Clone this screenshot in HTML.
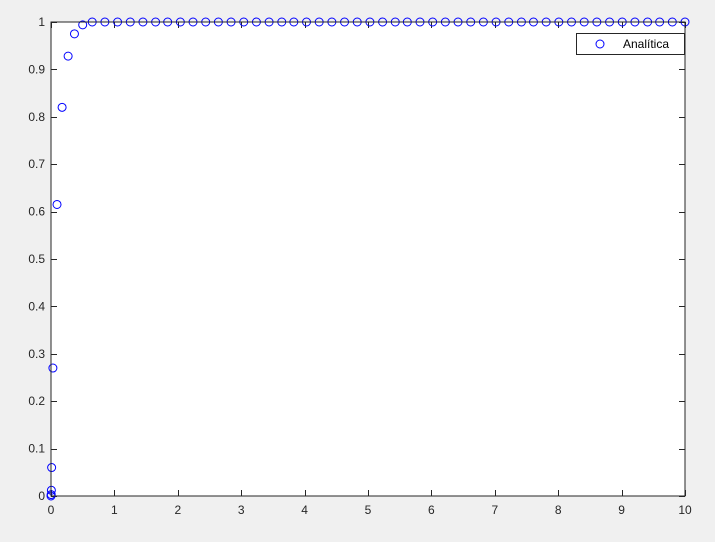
<!DOCTYPE html>
<html><head><meta charset="utf-8"><style>
html,body{margin:0;padding:0;background:#f0f0f0;}
svg{display:block;font-family:"Liberation Sans",Arial,sans-serif;}
</style></head><body>
<svg id="chart" width="715" height="542">
<rect x="0" y="0" width="715" height="542" fill="#f0f0f0"/>
<rect x="51" y="22" width="634" height="474" fill="#ffffff"/>
<g id="ticks"></g>
<g id="marks"></g>
<rect x="51" y="22" width="634" height="474" fill="none" stroke="#262626" stroke-width="1"/>
<g>
<rect x="576.5" y="33.5" width="108" height="21" fill="#fff" stroke="#262626"/>
<circle cx="600" cy="44" r="4" fill="none" stroke="#0000ff"/>
<text x="623" y="48" font-size="12" fill="#000">Analítica</text>
</g>
</svg>
<script>
const xTicks=[0,1,2,3,4,5,6,7,8,9,10];
const yTicks=[0,0.1,0.2,0.3,0.4,0.5,0.6,0.7,0.8,0.9,1];
const xVals=[0,0.003,0.006,0.01,0.03,0.095,0.175,0.27,0.37,0.5,
0.65,0.85,1.05,1.25,1.45,1.65,1.84,2.04,2.24,2.44,2.64,2.84,3.04,3.24,3.44,3.64,3.83,4.03,4.23,4.43,4.63,4.83,5.03,5.23,5.43,5.62,5.82,6.02,6.22,6.42,6.62,6.82,7.02,7.22,7.42,7.61,7.81,8.01,8.21,8.41,8.61,8.81,9.01,9.21,9.41,9.60,9.80,10.0];
const yVals=[0,0.003,0.012,0.06,0.27,0.615,0.82,0.928,0.975,0.994,
1,1,1,1,1,1,1,1,1,1,1,1,1,1,1,1,1,1,1,1,1,1,1,1,1,1,1,1,1,1,1,1,1,1,1,1,1,1,1,1,1,1,1,1,1,1,1,1];
const NS="http://www.w3.org/2000/svg";
const X0=51,X1=685,Y0=496,Y1=22;
function sx(v){return X0+(v-0)/(10-0)*(X1-X0);}
function sy(v){return Y0-(v-0)/(1-0)*(Y0-Y1);}
const tg=document.getElementById('ticks');
function mk(tag,attrs){const e=document.createElementNS(NS,tag);for(const k in attrs)e.setAttribute(k,attrs[k]);return e;}
xTicks.forEach(t=>{
  const x=Math.round(sx(t))+0.5;
  const l=mk('path',{d:`M${x},${Y0}V${Y0-6}M${x},${Y1}V${Y1+6}`,stroke:'#262626','stroke-width':1});
  
  
  tg.appendChild(l);
  const tx=mk('text',{x:sx(t),y:514,'font-size':12,'text-anchor':'middle',fill:'#262626'});
  tx.textContent=String(t);
  
  
  tg.appendChild(tx);
});
yTicks.forEach(t=>{
  const y=Math.round(sy(t))+0.5;
  const l=mk('path',{d:`M${X0},${y}H${X0+6}M${X1},${y}H${X1-6}`,stroke:'#262626','stroke-width':1});
  
  
  tg.appendChild(l);
  const tx=mk('text',{x:45,y:sy(t)+4,'font-size':12,'text-anchor':'end',fill:'#262626'});
  tx.textContent=String(t);
  
  
  tg.appendChild(tx);
});
const mg=document.getElementById('marks');
xVals.forEach((xv,i)=>{
  const c=mk('circle',{cx:sx(xv),cy:sy(yVals[i]),r:4,fill:'none',stroke:'#0000ff','stroke-width':1});
  
  
  mg.appendChild(c);
});
</script>
</body></html>
